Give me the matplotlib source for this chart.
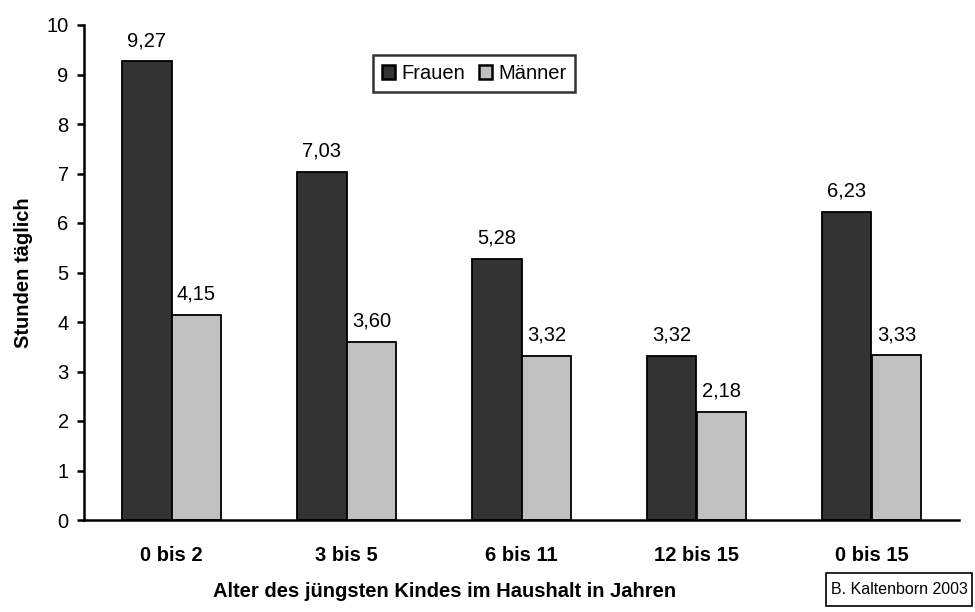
import matplotlib
matplotlib.use('Agg')
import matplotlib.pyplot as plt
from matplotlib.patches import Rectangle
import numpy as np

plt.rcParams['font.family'] = ['Liberation Sans', 'DejaVu Sans']

categories = ['0 bis 2', '3 bis 5', '6 bis 11', '12 bis 15', '0 bis 15']
frauen = [9.27, 7.03, 5.28, 3.32, 6.23]
maenner = [4.15, 3.60, 3.32, 2.18, 3.33]
yticks = list(range(0, 11))

fs = 14.5
W, H = 975, 612
fig = plt.figure(figsize=(W / 100, H / 100), dpi=100)
ax = fig.add_axes([84 / W, 1 - 520 / H, 875 / W, 495 / H])

x = np.arange(len(categories))
w = 0.2857
b1 = ax.bar(x - w / 2, frauen, w, color='#333333', edgecolor='black', linewidth=1.3, label='Frauen')
b2 = ax.bar(x + w / 2, maenner, w, color='#c0c0c0', edgecolor='black', linewidth=1.3, label='Männer')

for bars, vals in ((b1, frauen), (b2, maenner)):
    for r, v in zip(bars, vals):
        ax.annotate(f'{v:.2f}'.replace('.', ','), (r.get_x() + r.get_width() / 2, v),
                    xytext=(0, 8), textcoords='offset points', ha='center', va='bottom', fontsize=fs)

ax.set_xlim(-0.5, len(categories) - 0.5)
ax.set_ylim(0, 10)
ax.set_yticks(yticks)
ax.tick_params(axis='y', labelsize=fs, length=5, width=1.8, direction='out', pad=6)
ax.set_xticks(x)
ax.set_xticklabels(categories, fontsize=fs, fontweight='bold')
ax.tick_params(axis='x', length=0, pad=19)
ax.spines['top'].set_visible(False)
ax.spines['right'].set_visible(False)
ax.spines['left'].set_linewidth(1.8)
ax.spines['bottom'].set_linewidth(1.8)

ax.set_ylabel('Stunden täglich', fontsize=fs, fontweight='bold', labelpad=10)
ax.set_xlabel('Alter des jüngsten Kindes im Haushalt in Jahren', fontsize=fs, fontweight='bold', labelpad=12)
# title sits left of the axis centre in the original
ax.xaxis.label.set_x((445 - 84) / 875)

leg = ax.legend(loc='upper left', bbox_to_anchor=(373 / W, 1 - 55 / H), bbox_transform=fig.transFigure,
                ncol=2, fontsize=fs, frameon=True, fancybox=False, edgecolor='black',
                handlelength=0.65, handleheight=0.65, handletextpad=0.3, columnspacing=0.7,
                borderpad=0.45, borderaxespad=0)
leg.get_frame().set_linewidth(1.8)
for p in leg.get_patches():
    p.set_linewidth(1.8)

# credit box
fig.patches.append(Rectangle((826 / W, 1 - 606 / H), 146 / W, 33 / H, transform=fig.transFigure,
                             facecolor='white', edgecolor='black', linewidth=1.2))
fig.text(899 / W, 1 - 589.5 / H, 'B. Kaltenborn 2003', ha='center', va='center', fontsize=11.5)

fig.savefig('out.png', dpi=100)
